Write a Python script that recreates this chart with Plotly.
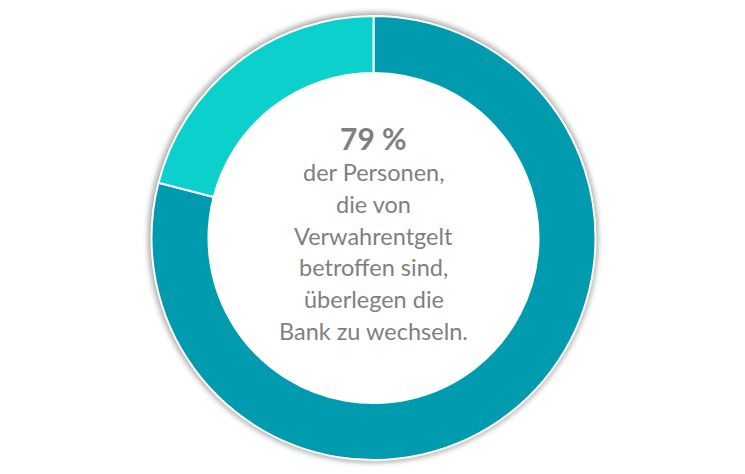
import plotly.graph_objects as go

labels = ["Wechsel überlegt", "Kein Wechsel"]
values = [79, 21]
colors = ["#009BAF", "#0BD0CB"]

headline = "79 %"
body_lines = ["der Personen,", "die von", "Verwahrentgelt", "betroffen sind,", "überlegen die", "Bank zu wechseln."]

W, H = 745, 474
OFF = 8  # page body margin of the browser
cx, cy, R = 373.5 - OFF, 238 - OFF, 222  # pixels, cy from top
R_in = 165

def px_x(x):
    return x / W

def px_y(y):
    return 1 - y / H

fig = go.Figure()

shapes = []
for dr, op in [(8, 0.04), (6, 0.07), (4.5, 0.10), (3, 0.13), (1.5, 0.17)]:
    r = R + dr
    shapes.append(dict(type="circle", xref="paper", yref="paper",
                       x0=px_x(cx - r - 0.5), x1=px_x(cx + r - 0.5),
                       y0=px_y(cy + r - 0.5), y1=px_y(cy - r - 0.5),
                       fillcolor=f"rgba(90,90,90,{op})", line=dict(width=0), layer="below"))
# white centre
shapes.append(dict(type="circle", xref="paper", yref="paper",
                   x0=px_x(cx - R_in - 2), x1=px_x(cx + R_in + 2),
                   y0=px_y(cy + R_in + 2), y1=px_y(cy - R_in - 2),
                   fillcolor="white", line=dict(width=0), layer="below"))

fig.add_trace(go.Pie(
    labels=labels, values=values,
    hole=R_in / R, sort=False, direction="clockwise", rotation=0,
    marker=dict(colors=colors, line=dict(color="white", width=2)),
    textinfo="none", hoverinfo="label+percent",
    domain=dict(x=[px_x(cx - R), px_x(cx + R)], y=[px_y(cy + R), px_y(cy - R)]),
    showlegend=False,
))

FONT = "Lato, Open Sans, sans-serif"
annotations = [dict(text=f"<b>{headline}</b>", x=px_x(cx), y=px_y(138 - OFF), xref="paper", yref="paper",
                    showarrow=False, font=dict(family=FONT, size=30, color="#7F7F7F"),
                    xanchor="center", yanchor="middle")]
y0 = 172
for i, line in enumerate(body_lines):
    annotations.append(dict(text=line, x=px_x(cx), y=px_y(y0 - OFF + i * 31.8), xref="paper", yref="paper",
                            showarrow=False, font=dict(family=FONT, size=23.5, color="#7F7F7F"),
                            xanchor="center", yanchor="middle"))

fig.update_layout(width=W, height=H, margin=dict(l=0, r=0, t=0, b=0),
                  paper_bgcolor="white", plot_bgcolor="white",
                  shapes=shapes, annotations=annotations)

fig.write_html("out.html")
